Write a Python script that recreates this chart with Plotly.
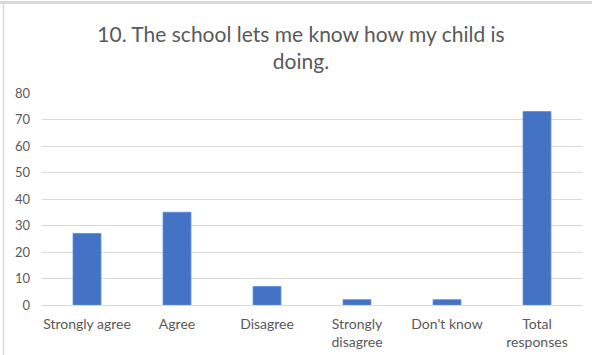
import plotly.graph_objects as go

categories = ["Strongly agree", "Agree", "Disagree", "Strongly<br>disagree", "Don't know", "Total<br>responses"]
values = [27, 35, 7, 2, 2, 73]
y_ticks = [0, 10, 20, 30, 40, 50, 60, 70, 80]

W, H = 592, 355
L, R, T, B = 42, 10, 93, 50
pw, ph = W - L - R, H - T - B

def px_x(x):
    return (x - L) / pw

def px_y(y):
    return (H - B - y) / ph

fig = go.Figure(go.Bar(
    x=categories, y=values,
    marker=dict(color="#4472C4", line=dict(color="#5B8BD9", width=0.8)),
    width=0.31,
))

fig.update_layout(
    width=W, height=H,
    margin=dict(l=L, r=R, t=T, b=B),
    paper_bgcolor="white", plot_bgcolor="white",
    font=dict(family="Lato, Open Sans, sans-serif", color="#595959", size=13),
    title=dict(
        text="10. The school lets me know how my child is<br>doing.",
        x=301 / W, xanchor="center", y=1 - 42 / H, yanchor="middle",
        font=dict(size=21, color="#595959", family="Lato, Open Sans, sans-serif"),
    ),
    showlegend=False,
    xaxis=dict(showgrid=False, showline=True, linecolor="#d9d9d9", linewidth=1,
               ticks="", ticklabelstandoff=6, automargin=False,
               tickfont=dict(size=14, color="#595959")),
    yaxis=dict(range=[0, 80], tickvals=y_ticks, showgrid=True, gridcolor="#d9d9d9",
               gridwidth=1, zeroline=False, showline=False, ticks="", automargin=False,
               ticklabelstandoff=11, tickfont=dict(size=13, color="#595959")),
    shapes=[
        dict(type="line", xref="paper", yref="paper", x0=px_x(0), x1=px_x(W),
             y0=px_y(2.5), y1=px_y(2.5), line=dict(color="#d9d9d9", width=3)),
        dict(type="line", xref="paper", yref="paper", x0=px_x(3.5), x1=px_x(3.5),
             y0=px_y(1), y1=px_y(H), line=dict(color="#d9d9d9", width=1.5)),
    ],
)

fig.write_html("out.html")
